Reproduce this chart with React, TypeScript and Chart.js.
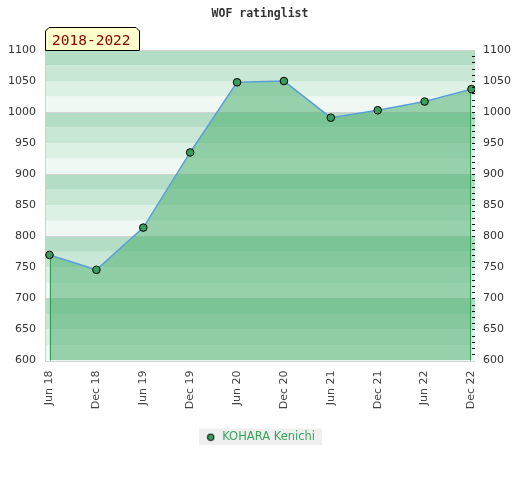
import React, { useEffect, useRef } from "react";
import { Chart, registerables } from "chart.js";

Chart.register(...registerables);

const labels = ["Jun 18", "Dec 18", "Jun 19", "Dec 19", "Jun 20", "Dec 20", "Jun 21", "Dec 21", "Jun 22", "Dec 22"];
const ratings = [770, 746, 814, 935, 1048, 1050, 991, 1003, 1017, 1037];
const playerName = "KOHARA Kenichi";
const chartTitle = "WOF ratinglist";
const periodLabel = "2018-2022";
const yMin = 600;
const yMax = 1100;
const yStep = 50;
const bandColors = ["#b3dec5", "#c8e7d4", "#dcf0e3", "#eff8f2"];

function makeLegendMarker() {
  const c = document.createElement("canvas");
  c.width = 9;
  c.height = 9;
  const g = c.getContext("2d");
  if (g) {
    g.beginPath();
    g.arc(4.5, 4.5, 3.3, 0, Math.PI * 2);
    g.fillStyle = "#3a9d5c";
    g.fill();
    g.lineWidth = 1;
    g.strokeStyle = "#000";
    g.stroke();
  }
  return c;
}

const decorPlugin = {
  id: "decor",
  beforeDraw(chart: any) {
    const { ctx, chartArea: ca, scales } = chart;
    const y = scales.y;
    ctx.save();
    for (let v = yMax, i = 0; v > yMin; v -= 25, i++) {
      const t = y.getPixelForValue(v);
      const b = y.getPixelForValue(v - 25);
      ctx.fillStyle = bandColors[i % 4];
      ctx.fillRect(ca.left, t, ca.right - ca.left, b - t);
    }
    ctx.strokeStyle = "#d2d2d2";
    ctx.lineWidth = 1;
    for (let v = yMin; v <= yMax; v += 100) {
      const p = Math.round(y.getPixelForValue(v)) + 0.5;
      ctx.beginPath();
      ctx.moveTo(ca.left, p);
      ctx.lineTo(ca.right, p);
      ctx.stroke();
    }
    const hb = chart.legend && chart.legend.legendHitBoxes && chart.legend.legendHitBoxes[0];
    if (hb) {
      ctx.fillStyle = "#efefef";
      ctx.fillRect(hb.left - 6, hb.top - 3, hb.width + 13, hb.height + 5);
    }
    ctx.restore();
  },
  beforeDatasetDraw(chart: any) {
    const { ctx, chartArea: ca } = chart;
    const pts = chart.getDatasetMeta(0).data;
    if (!pts.length) return;
    ctx.save();
    ctx.strokeStyle = "#2f9a55";
    ctx.lineWidth = 1;
    [pts[0], pts[pts.length - 1]].forEach((p: any, k: number) => {
      const x = k === 0 ? Math.ceil(p.x) + 0.5 : Math.floor(p.x) - 0.5;
      ctx.beginPath();
      ctx.moveTo(x, p.y);
      ctx.lineTo(x, ca.bottom);
      ctx.stroke();
    });
    ctx.restore();
  },
  afterDraw(chart: any) {
    const { ctx, chartArea: ca, scales } = chart;
    const y = scales.y;
    ctx.save();
    ctx.strokeStyle = "#111";
    ctx.lineWidth = 1;
    for (let v = yMin + 10; v < yMax; v += 10) {
      const p = Math.round(y.getPixelForValue(v)) + 0.5;
      ctx.beginPath();
      ctx.moveTo(ca.right - 3, p);
      ctx.lineTo(ca.right, p);
      ctx.stroke();
    }
    ctx.fillStyle = "#333";
    ctx.font = 'bold 11.5px "DejaVu Sans Mono", monospace';
    ctx.textAlign = "center";
    ctx.textBaseline = "alphabetic";
    ctx.fillText(chartTitle, 260, 17);
    const l = ca.left, r = ca.left + 95, t = ca.top - 23, b = Math.round(ca.top) + 0.5, c = 4;
    ctx.beginPath();
    ctx.moveTo(l + 0.5, b);
    ctx.lineTo(l + 0.5, t + c);
    ctx.lineTo(l + c, t + 0.5);
    ctx.lineTo(r - c, t + 0.5);
    ctx.lineTo(r - 0.5, t + c);
    ctx.lineTo(r - 0.5, b);
    ctx.closePath();
    ctx.fillStyle = "#ffffcc";
    ctx.fill();
    ctx.strokeStyle = "#000";
    ctx.stroke();
    ctx.fillStyle = "#8b0000";
    ctx.font = '14.5px "DejaVu Sans Mono", monospace';
    ctx.textAlign = "left";
    ctx.fillText(periodLabel, l + 7, b - 5.5);
    ctx.restore();
  },
};

export default function App() {
  const ref = useRef<HTMLCanvasElement>(null);
  useEffect(() => {
    if (!ref.current) return;
    const tickFont = { family: '"DejaVu Sans", sans-serif', size: 11 };
    const yTick = (v: any) => String(v);
    const chart = new Chart(ref.current, {
      type: "line",
      data: {
        datasets: [
          {
            label: playerName,
            data: ratings.map((v, i) => ({ x: i, y: v })),
            borderColor: "#5b9fd6",
            borderWidth: 1.5,
            backgroundColor: "rgba(70,172,108,0.52)",
            fill: "start",
            pointRadius: 3.8,
            pointBackgroundColor: "#3a9d5c",
            pointBorderColor: "#000",
            pointBorderWidth: 1,
            tension: 0,
          },
        ],
      },
      options: {
        responsive: false,
        animation: false,
        layout: { padding: { top: 50, bottom: 27, left: 0, right: 0 } },
        plugins: {
          title: { display: false },
          tooltip: { enabled: false },
          legend: {
            position: "bottom",
            labels: {
              color: "#3aa560",
              font: { family: '"DejaVu Sans", sans-serif', size: 11.5 },
              usePointStyle: true,
              pointStyle: makeLegendMarker(),
              boxWidth: 12,
              boxHeight: 9,
              padding: 10,
            },
          },
        },
        scales: {
          x: {
            type: "linear",
            min: -0.096,
            max: 9.075,
            afterBuildTicks: (s: any) => {
              s.ticks = labels.map((_, i) => ({ value: i }));
            },
            afterFit: (s: any) => {
              s.height = 61;
            },
            ticks: {
              callback: (v: any) => labels[v] ?? "",
              autoSkip: false,
              maxRotation: 90,
              minRotation: 90,
              padding: 10,
              color: "#444",
              font: tickFont,
            },
            grid: { display: false, drawTicks: false },
            border: { display: false },
          },
          y: {
            position: "left",
            min: yMin,
            max: yMax,
            afterFit: (s: any) => {
              s.width = 45;
            },
            ticks: { stepSize: yStep, padding: 9, color: "#333", font: tickFont, callback: yTick },
            grid: { display: false, drawTicks: false },
            border: { display: true, color: "#cfcfcf", width: 1 },
          },
          y2: {
            position: "right",
            min: yMin,
            max: yMax,
            afterFit: (s: any) => {
              s.width = 45;
            },
            ticks: { stepSize: yStep, padding: 8, color: "#333", font: tickFont, callback: yTick },
            grid: { display: false, drawTicks: false },
            border: { display: false },
          },
        },
      },
      plugins: [decorPlugin],
    } as any);
    return () => chart.destroy();
  }, []);
  return (
    <div style={{ position: "fixed", left: 0, top: 0, width: 520, height: 480, background: "#fff" }}>
      <canvas ref={ref} width={520} height={480} style={{ display: "block" }} />
    </div>
  );
}
